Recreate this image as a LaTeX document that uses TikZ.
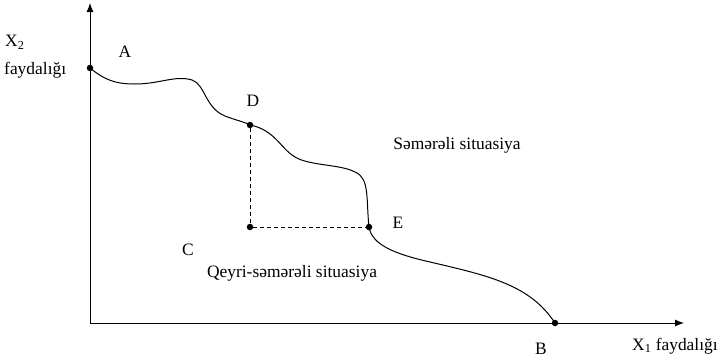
\documentclass[tikz,border=0pt]{standalone}
\usepackage{fontspec}
\setmainfont{Liberation Serif}
\usetikzlibrary{arrows.meta}
\begin{document}
\begin{tikzpicture}[x=1bp,y=-1bp,
  axis/.style={line width=0.9bp,-{Latex[length=9bp,width=7bp]}},
  curve/.style={line width=1bp},
  dot/.style={circle,fill=black,inner sep=0pt,minimum size=6.5bp},
  guide/.style={dashed,line width=0.8bp,dash pattern=on 4bp off 3bp},
  lbl/.style={font=\fontsize{17.5}{19}\selectfont,inner sep=0pt},
  txt/.style={font=\fontsize{17.5}{19}\selectfont,inner sep=0pt}]
\useasboundingbox (0,0) rectangle (721,361);
\coordinate (O) at (90,323);
\coordinate (ytop) at (90,3);
\coordinate (xend) at (684,323);
\draw[axis] (O) -- (ytop);
\draw[axis] (O) -- (xend);
\node[dot] (A) at (90,68) {};
\node[dot] (D) at (250,125) {};
\node[dot] (E) at (369,227) {};
\node[dot] (F) at (250,227) {};
\node[dot] (B) at (555,323) {};
\draw[curve] (A.center) .. controls (105,80) and (115,84) .. (135,84)
  .. controls (160,84) and (175,75) .. (192,80)
  .. controls (205,84) and (205,108) .. (225,116)
  .. controls (235,120) and (245,122) .. (D.center)
  .. controls (275,130) and (280,148) .. (295,157)
  .. controls (310,166) and (340,164) .. (355,172)
  .. controls (370,178) and (366,200) .. (E.center)
  .. controls (372,245) and (395,254) .. (430,262)
  .. controls (490,276) and (530,285) .. (B.center);
\draw[guide] (D) -- (F);
\draw[guide] (F) -- (E);
\node[lbl] (lA) at (125,52) {A};
\node[lbl] (lD) at (253,101) {D};
\node[lbl] (lE) at (398,223) {E};
\node[lbl] (lC) at (188,250) {C};
\node[lbl] (lB) at (541,349) {B};
\node[lbl,anchor=west] (lX2) at (5,42) {X\textsubscript{2}};
\node[lbl,anchor=west] (lf2) at (4,70) {faydalığı};
\node[lbl,anchor=west] (lX1) at (632,346) {X\textsubscript{1} faydalığı};
\node[txt] (s1) at (457,145) {Səmərəli situasiya};
\node[txt] (s2) at (292,273) {Qeyri-səmərəli situasiya};
\end{tikzpicture}
\end{document}
